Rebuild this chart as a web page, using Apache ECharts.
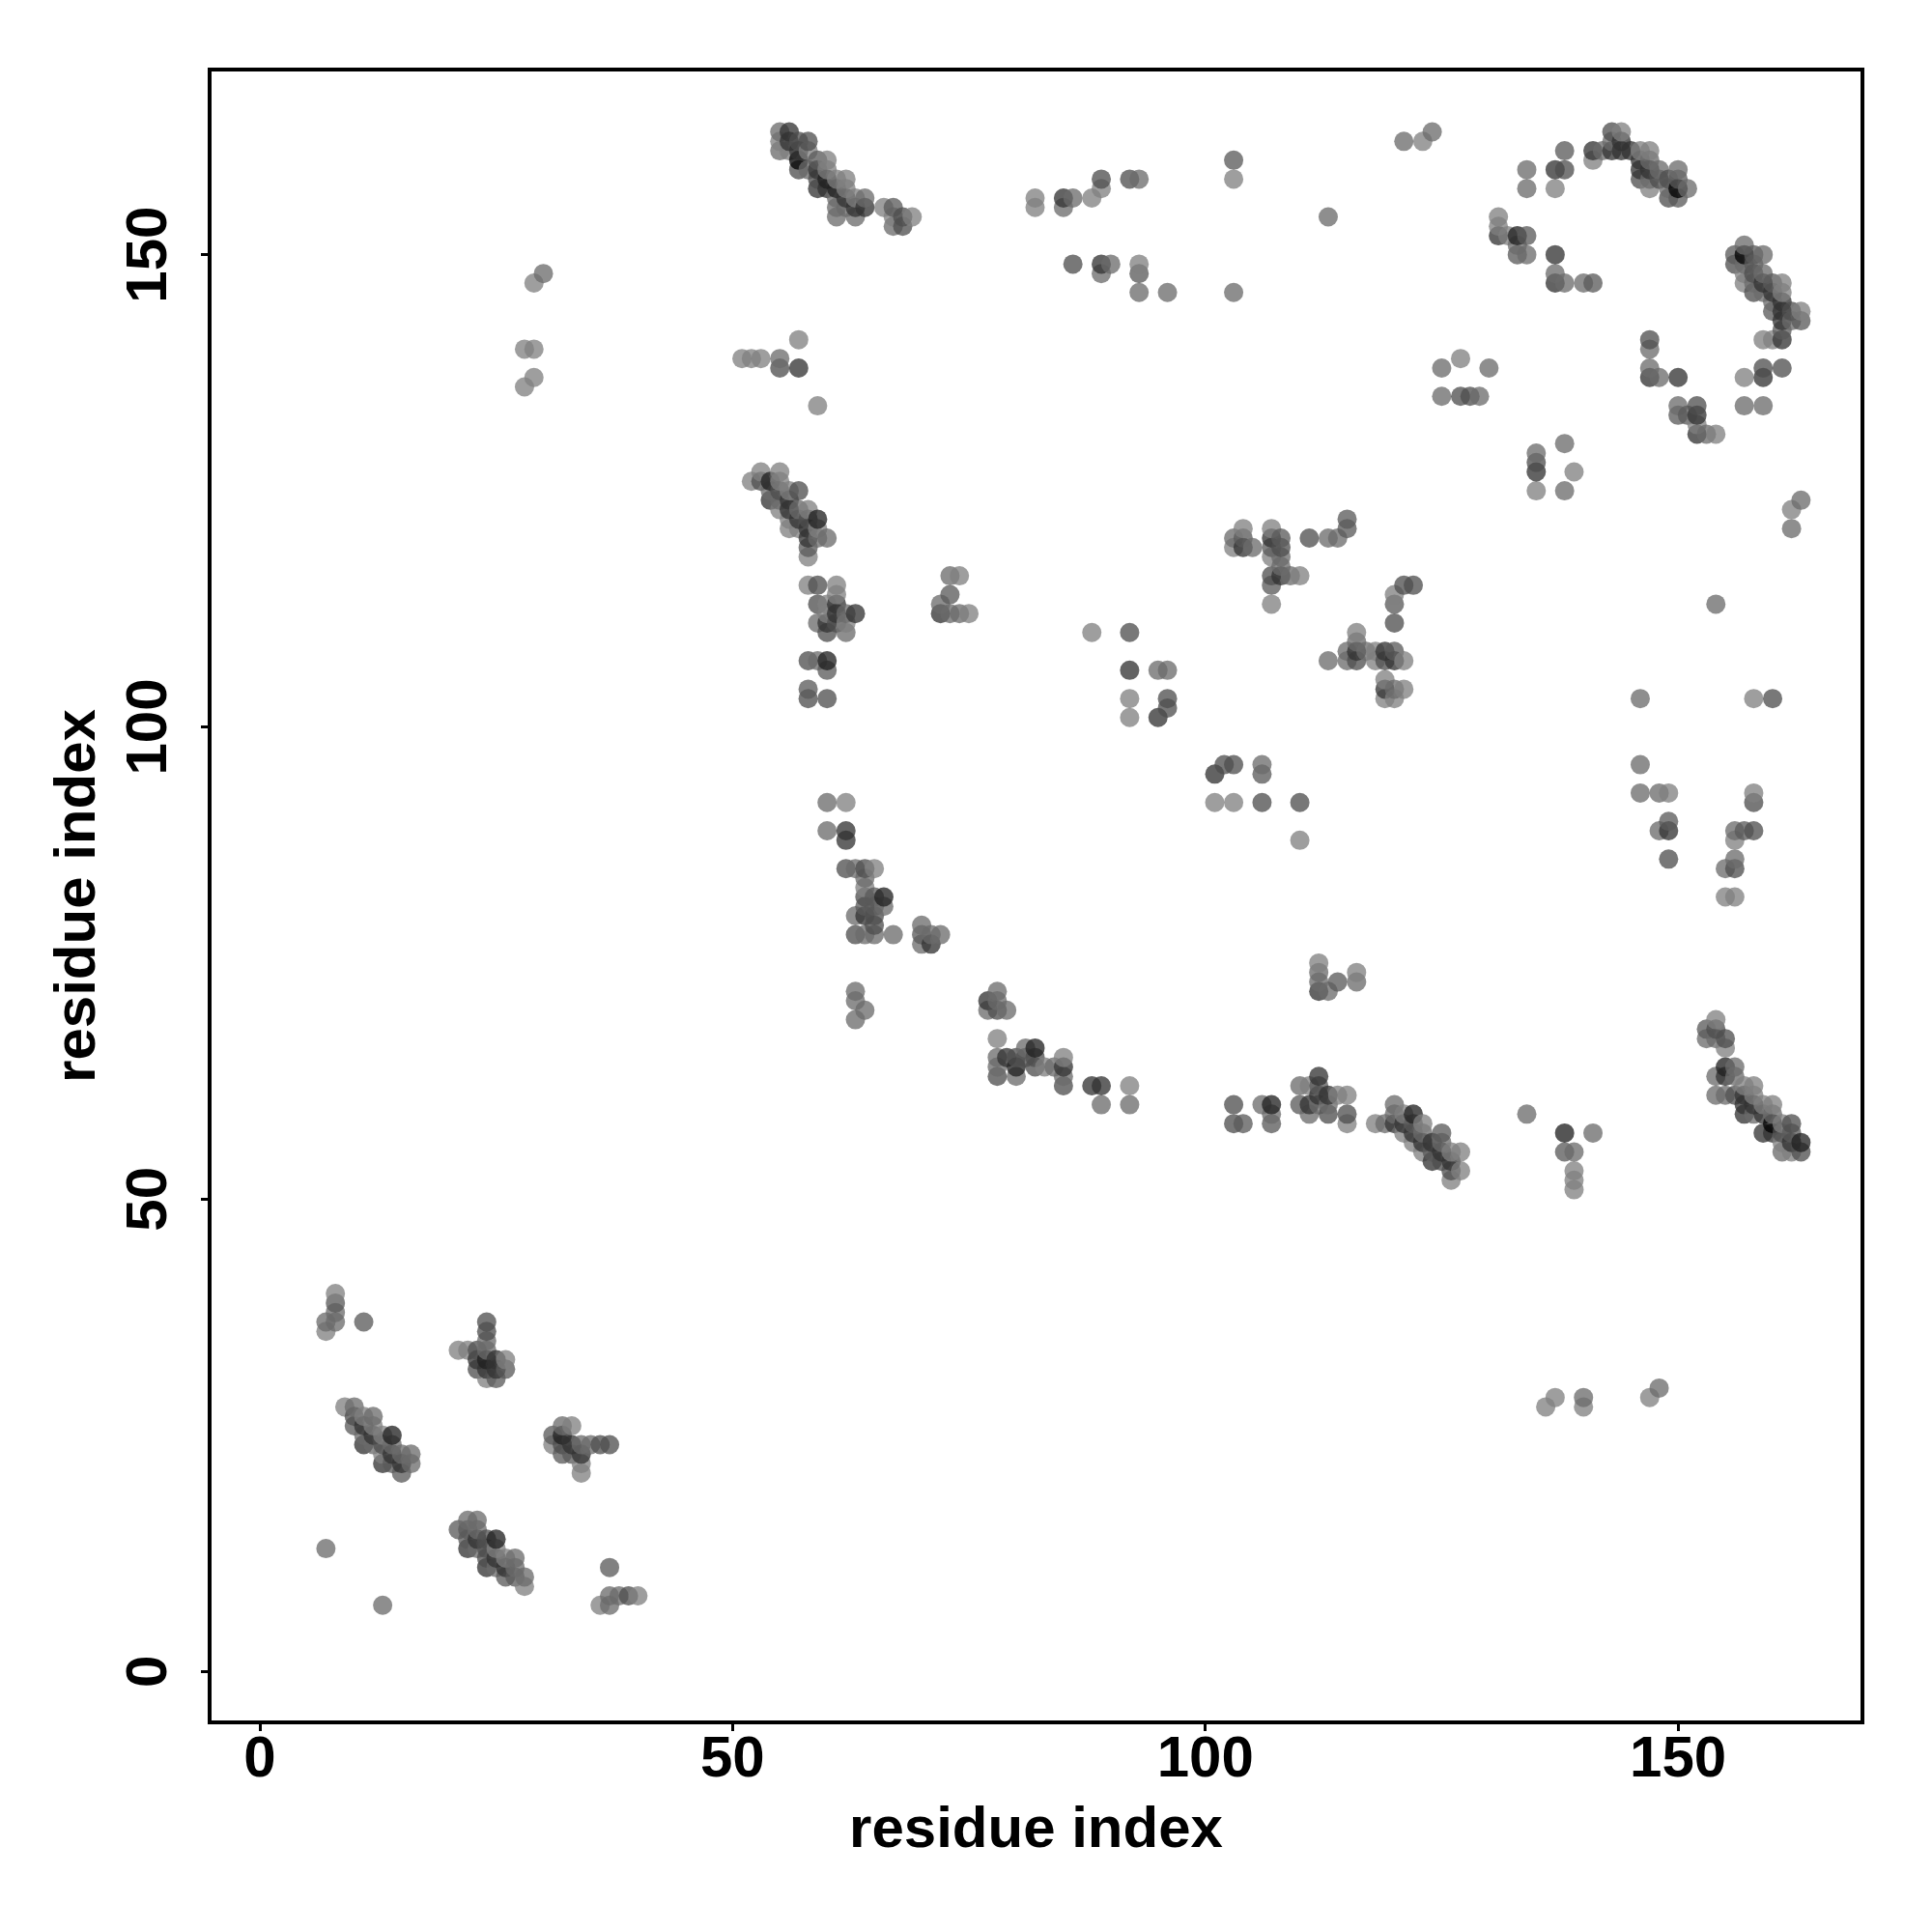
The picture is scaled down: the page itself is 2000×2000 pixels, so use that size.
<!DOCTYPE html>
<html><head><meta charset="utf-8">
<script src="https://cdn.jsdelivr.net/npm/echarts@6/dist/echarts.min.js"></script>
<style>html,body{margin:0;padding:0;background:#fff}#c{width:2000px;height:2000px}</style>
</head><body><div id="c"></div>
<script>
const tickValues = [0, 50, 100, 150];
const axisTitle = 'residue index';
const shadeLevels = {A:134, B:114, C:98, D:86, E:60, F:42, G:8};

const contactsA = [[8,40],[7,36],[21,34],[22,34],[26,33],[24,31],[9,28],[11,27],[12,26],[13,25],[13,23],[33,26],[31,24],[34,21],[34,22],[24,14],[25,13],[26,12],[27,11],[28,9],[36,7],[40,8],
[55,162],[56,161],[58,161],[60,160],[60,159],[61,158],[62,158],[62,157],[63,156],[66,155],[67,154],[69,154],[51,139],[52,139],[53,139],[57,141],[59,134],
[52,126],[53,127],[55,127],[55,126],[56,125],[55,123],[58,123],[56,122],[56,121],[57,121],[59,121],[58,118],[58,115],[61,115],[61,114],[60,113],[60,112],[62,111],[74,116],[75,112],
[62,92],[65,85],[64,83],[78,67],[85,65],[83,64],[92,62],[112,75],[116,74],[111,62],[114,61],[115,61],[115,58],[118,58],[121,59],[123,58],[121,57],[122,56],[123,55],[126,55],[127,55],[127,53],[126,52],[139,53],[139,52],[139,51],[136,28],[137,29],[140,28],[147,29],
[154,69],[155,66],[157,62],[158,62],[158,61],[159,60],[160,60],[161,58],[161,56],[162,55],
[137,157],[141,160],[144,163],[146,161],[147,161],[147,157],[131,154],[131,153],[132,152],[157,148],[157,147],[161,147],[161,146],[163,144],[159,141],[160,141],[157,137],[152,132],[154,131],[127,139],[135,125],[139,127],
[104,121],[103,119],[107,121],[107,118],[110,116],[107,113],[120,114],[116,110],[118,108],[118,107],[121,107],[119,105],[121,104],[119,103],[120,103],
[82,156],[82,155],[88,156],[89,157],[93,149],[123,162],[103,158],[29,147],[28,140],[29,140],[29,137],[28,136],[158,103],[162,123],[149,93],[158,93],[156,88],[155,82],[156,82],[101,92],[103,92],[110,88],[88,110],[92,103],[92,101]];

const contactsB = [[8,38],[8,37],[7,37],[24,34],[24,35],[12,25],[14,24],[15,23],[16,23],[16,22],[32,26],[34,24],[35,24],[7,13],[13,7],[37,8],[38,8],[37,7],[22,16],[23,16],[23,15],[23,13],[25,11],[27,12],[28,10],[12,27],[10,28],[11,25],[13,24],[12,24],[27,11],
[55,163],[55,161],[58,159],[61,156],[61,155],[61,154],[62,155],[64,156],[63,154],[67,153],[55,139],
[54,125],[55,124],[57,123],[58,120],[59,120],[60,120],[59,111],[61,111],[62,112],[62,110],[73,116],[72,113],[73,112],[74,112],[59,107],
[60,92],[60,89],[63,85],[64,84],[65,78],[64,78],[66,81],[63,80],[67,78],[70,79],[70,77],[71,78],[72,78],[63,72],[63,71],[63,69],[64,70],[78,72],[78,71],[77,70],[79,70],[78,65],[78,64],[80,63],[81,66],[84,64],[85,63],[89,60],[92,60],
[112,74],[112,73],[113,72],[116,73],[106,60],[107,59],[110,62],[112,60],[113,60],[111,59],[119,58],[120,60],[120,59],[123,57],[125,56],[134,59],[141,57],[139,55],[140,29],[148,30],
[153,67],[154,67],[156,64],[156,63],[154,63],[154,61],[155,61],[158,59],[160,59],[161,55],[157,149],
[134,159],[134,157],[142,161],[143,162],[147,160],[148,159],[147,158],[150,159],[149,157],[151,157],[133,151],[134,150],[137,148],[138,147],[140,147],[157,151],[159,150],[159,148],[158,147],[159,146],[160,145],[162,143],[157,134],[159,134],[147,140],[147,138],[148,137],[150,134],[153,131],[130,138],[129,135],[125,138],[125,135],[135,129],[138,130],[138,125],
[103,120],[105,119],[113,120],[114,120],[108,118],[108,117],[109,116],[115,108],[116,109],[117,108],[113,107],[115,107],[120,104],
[121,162],[124,163],[103,146],[86,156],[85,155],[90,149],[93,158],[89,148],[93,146],[96,146],[113,154],[30,148],[146,103],[154,113],[163,124],[162,121],[146,96],[146,93],[148,93],[148,89],[156,89],[156,86],[155,85],[106,96],[95,106],[96,106]];

const contactsC = [[8,39],[11,37],[26,32],[25,31],[10,26],[14,22],[15,21],[31,25],[32,23],[33,23],[21,15],[22,14],[26,10],[27,10],[37,11],[10,27],[22,15],
[67,155],[59,160],[107,60],
[58,119],[60,106],[58,104],[65,82],[64,81],[65,81],[70,78],[78,70],[73,114],
[112,62],[114,73],[110,60],[104,58],[107,58],[122,58],[125,57],[124,55],[138,55],
[153,68],[162,57],
[138,161],[150,158],[150,156],[131,152],[134,152],[133,150],[141,147],[156,150],[158,150],[158,149],[160,147],[160,144],[161,142],[163,143],[147,137],[150,133],[151,133],
[115,122],[115,121],[104,120],[108,120],[107,119],[107,115],[120,113],[120,108],
[103,160],[93,148],[157,89],[149,90],[106,95]];

const contactsD = [[24,37],[24,36],[23,34],[23,32],[13,24],[32,24],[36,24],[37,24],[24,13],[24,12],[39,8],[10,27],[24,14],
[57,162],[58,162],[57,159],[59,158],[68,154],[68,153],[55,138],
[53,126],[55,125],[57,125],[58,122],[59,115],[59,113],[61,111],[60,110],[58,107],[58,103],[60,103],
[62,85],[64,85],[64,82],[65,80],[65,79],[63,78],[78,70],[78,63],[80,65],[81,65],[82,65],[82,64],[85,62],
[103,60],[103,58],[107,60],[115,59],[125,54],[126,53],[113,59],[122,57],
[154,68],[155,67],[156,61],[161,57],[162,58],[163,55],
[138,159],[143,163],[146,158],[148,158],[149,158],[149,156],[156,149],[158,148],[158,146],[162,144],[161,138],[159,138],[147,141],[152,134],
[111,120],[108,119],[107,116],[120,111],[122,115],[121,115],[116,107],[119,107],
[89,158],[92,158],[86,149],[127,135],[128,135],[135,128],[160,103],[149,86],[158,92],[158,89],[156,85],[102,96],[103,96],[106,92],[110,92],[92,110],[96,103],[96,102]];

const contactsE = [[23,33],[25,32],[24,32],[25,33],[11,26],[12,25],[11,24],[14,23],[13,22],[15,22],[33,24],[34,23],[23,14],[22,13],[25,12],[24,11],[26,11],
[56,163],[56,162],[57,161],[59,159],[59,157],[60,157],[63,155],[64,155],[62,156],[57,138],
[54,124],[56,124],[56,123],[57,122],[58,121],[58,120],[61,113],[61,112],[63,112],[60,111],[72,112],
[62,89],[62,88],[64,80],[71,77],[77,71],[79,65],[85,64],[88,62],[89,62],[112,72],[112,63],[112,61],[113,61],[111,60],
[120,58],[121,58],[122,57],[123,56],[124,56],[124,54],[125,55],[126,54],
[155,64],[155,63],[157,61],[157,60],[158,60],[157,59],[159,59],[159,57],[160,57],[162,56],
[137,159],[141,161],[143,161],[144,162],[144,161],[145,161],[146,160],[146,159],[147,159],[131,152],[137,150],[137,147],[159,147],[160,146],[161,145],[161,144],[161,143],[161,141],[159,137],[147,137],[150,137],[152,133],[152,131],
[104,119],[107,120],[108,116],[116,108],[119,108],[120,107],[119,104],
[85,156],[89,149],[135,127],[149,89],[101,95],[92,106],[95,101]];

const contactsF = [[14,25],[24,33],[32,25],[25,14],[54,126],[59,122],[60,107],[66,82],[82,66],[80,64],[107,60],[122,59],[138,57],[133,152],[155,64],[163,56],[60,158],[61,157]];
const contactsG = [[57,160],[150,157],[157,150],[160,58]];

const shadeOrder = ['A','B','C','D','E','F','G'];
const shadeSets = [contactsA, contactsB, contactsC, contactsD, contactsE, contactsF, contactsG];
const ALPHA = 0.95;
const seen = new Map();
shadeSets.forEach((set, i) => set.forEach(p => seen.set(p[0] + '_' + p[1], [p[0], p[1], shadeOrder[i]])));
const points = Array.from(seen.values()).sort((a, b) => a[0] - b[0] || a[1] - b[1]);

function shadeColor(s) {
  const v = Math.max(0, Math.round((shadeLevels[s] - 255 * (1 - ALPHA)) / ALPHA));
  return 'rgba(' + v + ',' + v + ',' + v + ',' + ALPHA + ')';
}

const font = {fontFamily: '"Liberation Sans"', fontWeight: 'bold', fontSize: 60, color: '#000'};
const chart = echarts.init(document.getElementById('c'), null, {renderer: 'canvas'});
chart.setOption({
  animation: false,
  backgroundColor: '#fff',
  grid: {left: 217, right: 72, top: 72, bottom: 217, show: true, borderColor: '#000', borderWidth: 4, backgroundColor: 'transparent'},
  xAxis: {
    type: 'value', min: -5.3, max: 169.5, splitLine: {show: false},
    axisLine: {show: true, onZero: false, lineStyle: {color: '#000', width: 3}},
    axisTick: {show: true, customValues: tickValues, length: 9, lineStyle: {color: '#000', width: 3}},
    axisLabel: Object.assign({customValues: tickValues, margin: 9, showMinLabel: true, showMaxLabel: true}, font),
    name: axisTitle, nameLocation: 'middle', nameGap: 82, nameTextStyle: font
  },
  yAxis: {
    type: 'value', min: -5.4, max: 169.6, splitLine: {show: false},
    axisLine: {show: true, onZero: false, lineStyle: {color: '#000', width: 3}},
    axisTick: {show: true, customValues: tickValues, length: 9, lineStyle: {color: '#000', width: 3}},
    axisLabel: Object.assign({customValues: tickValues, margin: 32, rotate: 90}, font),
    name: axisTitle, nameLocation: 'middle', nameGap: 106, nameRotate: 90, nameTextStyle: font
  },
  series: [{
    type: 'scatter', symbol: 'circle', symbolSize: 20, clip: false, large: false,
    data: points.map(p => ({value: [p[0], p[1]], itemStyle: {color: shadeColor(p[2])}})),
    emphasis: {disabled: true}
  }]
});
</script></body></html>
